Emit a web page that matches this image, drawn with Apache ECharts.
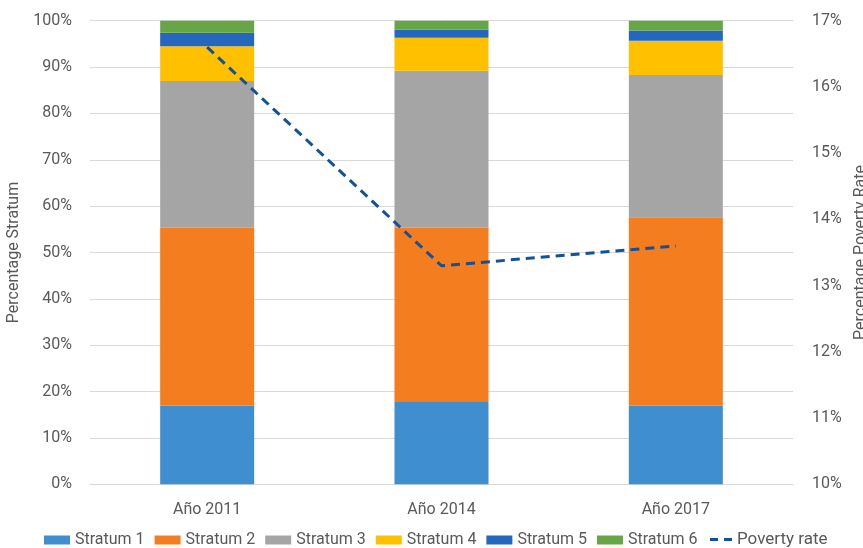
<!DOCTYPE html>
<html>
<head>
<meta charset="utf-8">
<script src="https://cdn.jsdelivr.net/npm/echarts@6/dist/echarts.min.js"></script>
<style>
html,body{margin:0;padding:0;background:#fff;}
#chart{width:863px;height:548px;}
</style>
</head>
<body>
<div id="chart"></div>
<script>
const categories = ['Año 2011', 'Año 2014', 'Año 2017'];
const stratum1 = [17.0, 17.75, 17.0];
const stratum2 = [38.35, 37.6, 40.6];
const stratum3 = [31.65, 33.85, 30.7];
const stratum4 = [7.5, 7.1, 7.4];
const stratum5 = [2.9, 1.8, 2.2];
const stratum6 = [2.6, 1.9, 2.1];
const povertyRate = [16.6, 13.3, 13.6];
const leftTicks = [0, 100, 10];
const rightTicks = [10, 17, 1];

const seriesNames = ['Stratum 1','Stratum 2','Stratum 3','Stratum 4','Stratum 5','Stratum 6'];
const seriesData = [stratum1, stratum2, stratum3, stratum4, stratum5, stratum6];
const colors = ['#3f8fd0','#f47d20','#a5a5a5','#ffc000','#2566be','#66a644'];
const LINE_COLOR = '#12519b';
const FONT = 'Roboto';
const TXT = '#595959';

const chart = echarts.init(document.getElementById('chart'), null, {renderer:'canvas'});
const series = seriesNames.map((n, i) => ({
  name: n, type: 'bar', stack: 'total', data: seriesData[i],
  barWidth: 94, itemStyle: {color: colors[i]}, xAxisIndex: 0, yAxisIndex: 0
}));
series.push({
  name: 'Poverty rate', type: 'line', data: povertyRate, yAxisIndex: 1,
  symbol: 'none', showSymbol: false,
  lineStyle: {color: LINE_COLOR, width: 3, type: [9, 6]},
  itemStyle: {color: LINE_COLOR}, z: 10
});

chart.setOption({
  animation: false,
  textStyle: {fontFamily: FONT},
  grid: {left: 90, right: 70, top: 20.7, bottom: 63.7, containLabel: false, outerBoundsMode: 'none'},
  legend: [{
    bottom: 0, left: 44, padding: 0,
    itemWidth: 26, itemHeight: 9, itemGap: 10,
    textStyle: {color: TXT, fontSize: 16, fontFamily: FONT},
    data: seriesNames.map(n => ({name: n, icon: 'rect'}))
  }, {
    bottom: 0, left: 710, padding: 0,
    itemWidth: 22, itemHeight: 3, itemGap: 10,
    textStyle: {color: TXT, fontSize: 17, fontFamily: FONT},
    data: [{name: 'Poverty rate', icon: 'path://M0,0h8v3h-8z M14,0h8v3h-8z', itemStyle: {color: LINE_COLOR}}]
  }],
  xAxis: [{
    type: 'category', data: categories,
    axisLine: {show: true, lineStyle: {color: '#d9d9d9'}},
    axisTick: {show: false},
    axisLabel: {color: TXT, fontSize: 16, margin: 18, fontFamily: FONT}
  }],
  yAxis: [{
    type: 'value', min: leftTicks[0], max: leftTicks[1], interval: leftTicks[2],
    name: 'Percentage Stratum', nameLocation: 'middle', nameGap: 58,
    nameTextStyle: {color: TXT, fontSize: 16, fontFamily: FONT},
    axisLabel: {formatter: '{value}%', color: TXT, fontSize: 16, margin: 18, fontFamily: FONT},
    axisLine: {show: false}, axisTick: {show: false},
    splitLine: {lineStyle: {color: '#d9d9d9', width: 1}}
  }, {
    type: 'value', min: rightTicks[0], max: rightTicks[1], interval: rightTicks[2],
    name: 'Percentage Poverty Rate', nameLocation: 'middle', nameGap: 55, nameRotate: 90,
    nameTextStyle: {color: TXT, fontSize: 16, fontFamily: FONT},
    axisLabel: {formatter: '{value}%', color: TXT, fontSize: 16, margin: 19, fontFamily: FONT},
    axisLine: {show: false}, axisTick: {show: false},
    splitLine: {show: false}
  }],
  series: series
});
</script>
</body>
</html>
